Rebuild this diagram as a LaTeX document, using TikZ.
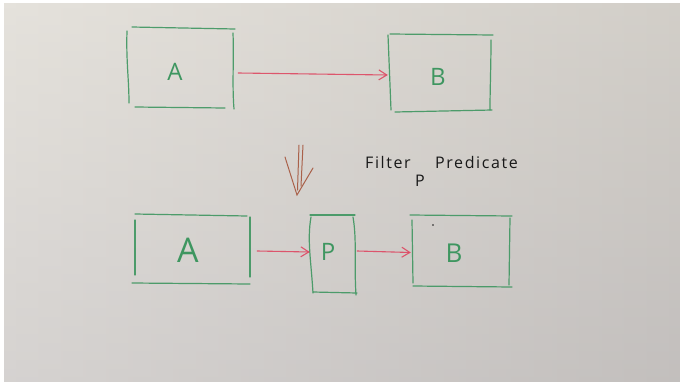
\documentclass[tikz,border=0pt]{standalone}
\usepackage{fontspec}
\setmainfont{Open Sans}
\usetikzlibrary{arrows.meta}

\definecolor{boardL}{RGB}{229,226,220}
\definecolor{boardR}{RGB}{200,196,190}
\definecolor{boardBot}{RGB}{185,182,188}
\definecolor{marker}{RGB}{62,150,96}
\definecolor{flow}{RGB}{222,72,98}
\definecolor{brownpen}{RGB}{165,85,60}
\definecolor{ink}{RGB}{25,25,25}

\tikzset{
  pen/.style={draw=marker, line width=1.2pt, line cap=round, opacity=0.9},
  flowarrow/.style={draw=flow, line width=1.1pt, line cap=round, opacity=0.9,
    -{Straight Barb[length=8pt,width=10pt,line width=1.1pt]}},
  brownstroke/.style={draw=brownpen, line width=1pt, line cap=round, opacity=0.9},
  box/.style={draw=none, inner sep=0pt},
  lbl/.style={text=marker, font=\fontsize{24}{24}\selectfont},
  hand/.style={text=ink, inner sep=0pt,
    font=\fontsize{16}{16}\selectfont\addfontfeature{LetterSpace=10}}
}

\begin{document}
\begin{tikzpicture}[x=1pt,y=-1pt]
  % whiteboard background
  \fill[white] (0,0) rectangle (680,381);
  \shade[left color=boardL, right color=boardR] (4,3) rectangle (680,381);
  \shade[top color=boardL, bottom color=boardBot, fill opacity=0.35] (4,3) rectangle (680,381);
  \useasboundingbox (0,0) rectangle (680,381);

  % box placeholders
  \node[box, minimum width=107pt, minimum height=81pt] (A1) at (180.5,67.5) {};
  \node[box, minimum width=104pt, minimum height=77pt] (B1) at (440,72.5) {};
  \node[box, minimum width=116pt, minimum height=69pt] (A2) at (192,248.5) {};
  \node[box, minimum width=45pt,  minimum height=78pt] (P2) at (332.5,254) {};
  \node[box, minimum width=100pt, minimum height=71pt] (B2) at (461,250.5) {};

  % top A box
  \draw[pen] (127,31) .. controls (126,60) and (129,80) .. (129,103);
  \draw[pen] (132,27) -- (235,29);
  \draw[pen] (233,33) .. controls (234,60) and (232,85) .. (234,109);
  \draw[pen] (135,107) -- (225,108);
  % top B box
  \draw[pen] (388,35) .. controls (389,60) and (390,85) .. (391,110);
  \draw[pen] (390,34) -- (493,35);
  \draw[pen] (491,40) .. controls (491,65) and (490,90) .. (490,110);
  \draw[pen] (395,112) -- (492,110);
  % lower A box
  \draw[pen] (135,220) -- (135,275);
  \draw[pen] (135,214) -- (247,216);
  \draw[pen] (250,217) -- (250,277);
  \draw[pen] (132,283) -- (250,284);
  % P box
  \draw[pen] (311,217) .. controls (307,240) and (311,260) .. (313,293);
  \draw[pen] (310,215) -- (355,215);
  \draw[pen] (353,217) .. controls (357,240) and (354,265) .. (356,295);
  \draw[pen] (313,292) -- (357,293);
  % lower B box
  \draw[pen] (412,220) -- (413,283);
  \draw[pen] (410,215) -- (512,216);
  \draw[pen] (510,218) -- (509,285);
  \draw[pen] (413,286) -- (512,287);
  \fill[ink] (433,225) circle (0.9pt);

  % labels
  \node[lbl] (la1) at (175,72) {A};
  \node[lbl] (lb1) at (438,77) {B};
  \node[lbl, font=\fontsize{34}{34}\selectfont] (la2) at (188,250) {A};
  \node[lbl] (lp2) at (328,252) {P};
  \node[lbl, font=\fontsize{26}{26}\selectfont] (lb2) at (454,253) {B};

  % flow arrows
  \draw[flowarrow] ([yshift=-5.5pt]A1.east) ++(4,0) coordinate (s1) -- ([yshift=-2pt]s1 -| B1.west);
  \draw[flowarrow] (A2.east) ++(7,2.5) coordinate (s2) -- ([yshift=-1pt]s2 -| P2.west);
  \draw[flowarrow] ([xshift=2pt,yshift=3pt]P2.east) coordinate (s3) -- ([yshift=-1.5pt]s3 -| B2.west);

  % transformation arrow
  \coordinate (dtop) at (299,145);
  \coordinate (dtip) at (297,195);
  \draw[brownstroke] (dtop) -- (297.5,190);
  \draw[brownstroke] ([xshift=4pt]dtop) -- (301,186);
  \draw[brownstroke] (285,157) -- (dtip) -- (313,168);

  % annotation
  \node[hand, anchor=base west] (filt) at (365,168) {Filter};
  \node[hand, anchor=base west] (pred) at (435,168) {Predicate};
  \node[hand, anchor=base] (pvar) at (420,186) {P};
\end{tikzpicture}
\end{document}
